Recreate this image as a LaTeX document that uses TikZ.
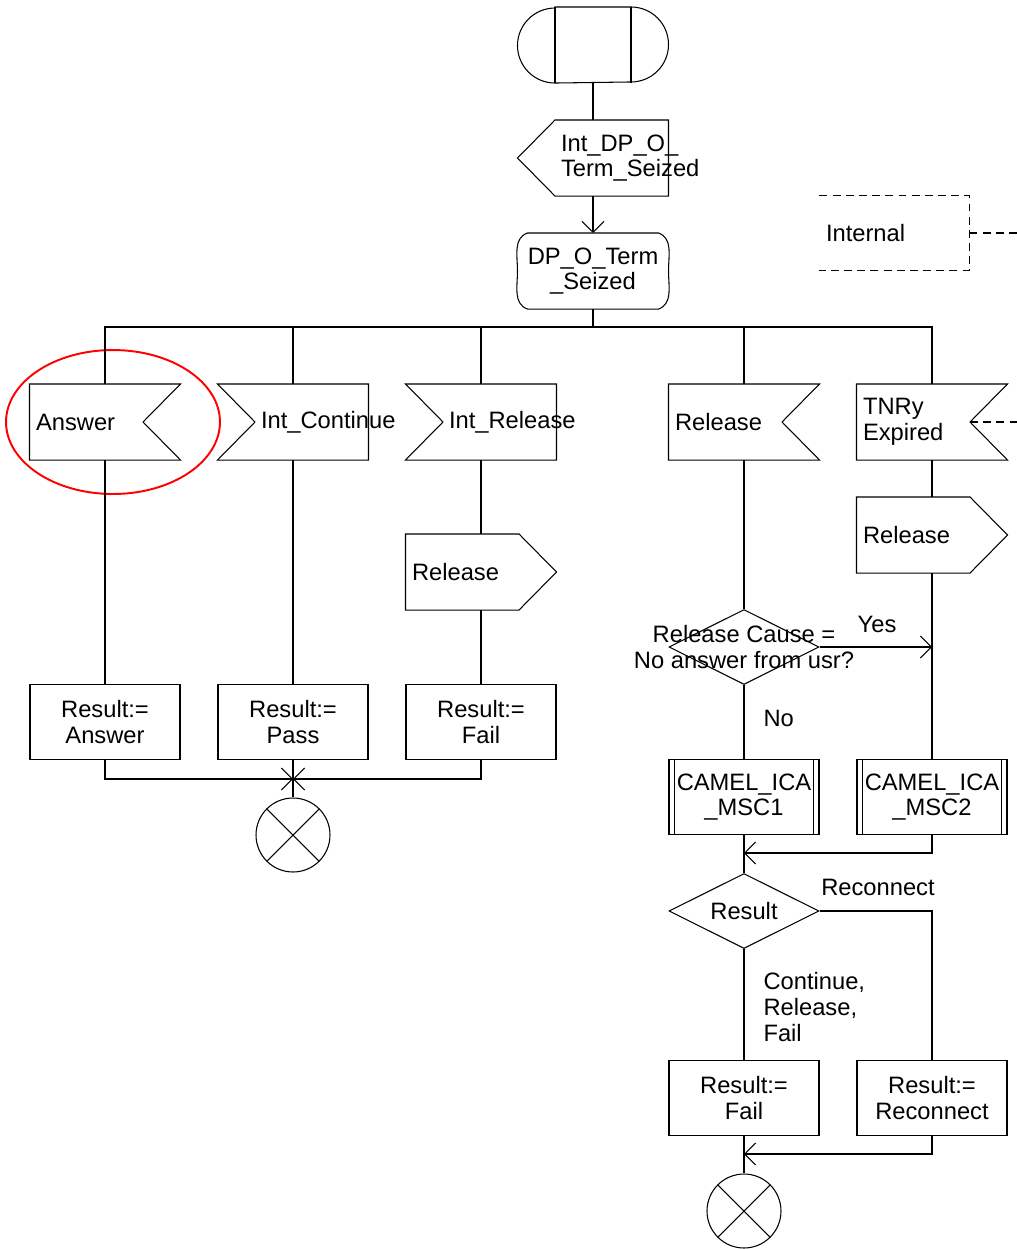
\documentclass[tikz,border=0pt]{standalone}
\usepackage{fontspec}
\setmainfont{Liberation Sans}
\usetikzlibrary{shapes.geometric,arrows.meta}

\begin{document}
\begin{tikzpicture}[x=0.02cm, y=-0.02cm, line width=0.6pt,
  font=\fontsize{13.5}{14.7}\selectfont,
  >={Straight Barb[length=6.2pt,width=12.5pt]},
  sym/.style={minimum width=3cm, minimum height=1.5cm, inner sep=0pt, align=center},
  task/.style={sym, draw},
  txt/.style={anchor=west, align=left, inner sep=0pt},
  dec/.style={diamond, draw, aspect=2, minimum width=3cm, minimum height=1.5cm, inner sep=0pt},
  stop/.style={circle, draw, minimum size=1.48cm, inner sep=0pt, path picture={
      \draw (path picture bounding box.north west) -- (path picture bounding box.south east)
            (path picture bounding box.north east) -- (path picture bounding box.south west);}},
  bold/.style={line width=1.4pt},
  cmtline/.style={dash pattern=on 4.5pt off 3pt}]
\useasboundingbox (0,0) rectangle (1017,1249);

% start
\node[sym] (strt) at (593,45) {};
\draw ([xshift=7.5mm]strt.north west) -- ([xshift=-7.5mm]strt.north east)
  arc[start angle=90, end angle=-90, radius=7.5mm] -- ([xshift=7.5mm]strt.south west)
  arc[start angle=270, end angle=90, radius=7.5mm] -- cycle;
\draw ([xshift=7.5mm]strt.north west) -- ([xshift=7.5mm]strt.south west)
  ([xshift=-7.5mm]strt.north east) -- ([xshift=-7.5mm]strt.south east);

\node[sym, label={[txt, xshift=8.6mm]west:Int\_DP\_O\_\\Term\_Seized}] (idp) at (593,158) {};
\draw ([xshift=7.5mm]idp.north west) -- (idp.north east) -- (idp.south east)
  -- ([xshift=7.5mm]idp.south west) -- (idp.west) -- cycle;

\node[sym] (dps) at (593,271) {DP\_O\_Term\\\_Seized};
\draw ([xshift=2mm]dps.north west) -- ([xshift=-2mm]dps.north east)
  to[out=-20,in=90] (dps.east) to[out=-90,in=20] ([xshift=-2mm]dps.south east)
  -- ([xshift=2mm]dps.south west) to[out=160,in=-90] (dps.west)
  to[out=90,in=-160] ([xshift=2mm]dps.north west);

% comment
\node[sym, minimum width=2.98cm, minimum height=1.48cm,
  label={[txt, xshift=1.2mm]west:Internal}] (cmt) at (894.5,233) {};
\draw[cmtline] (cmt.north west) -- (cmt.north east) -- (cmt.south east) -- (cmt.south west);
\coordinate (edge1) at (1017,233);
\draw[cmtline] (cmt.east) -- (edge1);

% inputs
\node[sym, label={[txt, xshift=1.2mm]west:Answer}] (ans) at (105,422) {};
\node[sym, label={[txt, xshift=8.6mm]west:Int\_Continue}] (ic) at (293,422) {};
\node[sym, label={[txt, xshift=8.6mm]west:Int\_Release}] (ir) at (481,422) {};
\node[sym, label={[txt, xshift=1.2mm]west:Release}] (rel) at (744,422) {};
\node[sym, label={[txt, xshift=1.2mm]west:TNRy\\Expired}] (tnr) at (932,422) {};
\foreach \n in {ans,rel,tnr}
  \draw (\n.north west) -- (\n.north east) -- ([xshift=-7.5mm]\n.east)
    -- (\n.south east) -- (\n.south west) -- cycle;
\foreach \n in {ic,ir}
  \draw (\n.north west) -- (\n.north east) -- (\n.south east)
    -- (\n.south west) -- ([xshift=7.5mm]\n.west) -- cycle;
\coordinate (edge2) at (1017,422);
\draw[cmtline] ([xshift=-7.5mm]tnr.east) -- (edge2);

\draw[red, line width=1.1pt] ([xshift=1.6mm]ans.center) ellipse [x radius=2.14cm, y radius=1.44cm];

% outputs
\node[sym, label={[txt, xshift=1.2mm]west:Release}] (irel) at (481,572) {};
\node[sym, label={[txt, xshift=1.2mm]west:Release}] (trel) at (932,535) {};
\foreach \n in {irel,trel}
  \draw (\n.north west) -- ([xshift=-7.5mm]\n.north east) -- (\n.east)
    -- ([xshift=-7.5mm]\n.south east) -- (\n.south west) -- cycle;

\node[dec, label={[align=center]center:Release Cause =\\No answer from usr?}] (dc1) at (744,647) {};
\node (yes) at (877,624) {Yes};
\node[txt] (no) at (763,718) {No};

% tasks
\node[task] (rans) at (105,722) {Result:=\\Answer};
\node[task] (rpas) at (293,722) {Result:=\\Pass};
\node[task] (rfl) at (481,722) {Result:=\\Fail};
\node[stop] (stp1) at (293,835) {};

\node[task] (cam1) at (744,797) {CAMEL\_ICA\\\_MSC1};
\node[task] (cam2) at (932,797) {CAMEL\_ICA\\\_MSC2};
\foreach \n in {cam1,cam2}
  \draw ([xshift=1.2mm]\n.north west) -- ([xshift=1.2mm]\n.south west)
    ([xshift=-1.2mm]\n.north east) -- ([xshift=-1.2mm]\n.south east);

\node[dec] (dc2) at (744,911) {Result};
\node (recl) at (878,887) {Reconnect};
\node[txt] (cont) at (763,1007) {Continue,\\Release,\\Fail};
\node[task] (rfl2) at (744,1098) {Result:=\\Fail};
\node[task] (rrec) at (932,1098) {Result:=\\Reconnect};
\node[stop] (stp2) at (744,1211) {};

% connectors
\coordinate (bus) at (593,327);
\coordinate (j1) at (293,779);
\coordinate (j2) at (744,853);
\coordinate (j3) at (744,1154);
\draw (strt.south) -- (idp.north);
\draw[->] (idp.south) -- (dps.north);
\draw[bold] (dps.south) -- (bus);
\draw (ans.north) |- (bus) -| (tnr.north);
\foreach \n in {ic,ir,rel}
  \draw (\n.north) -- (\n.north |- bus);
\draw (ans.south) -- (rans.north);
\draw (ic.south) -- (rpas.north);
\draw (ir.south) -- (irel.north);
\draw (irel.south) -- (rfl.north);
\draw[->] (rans.south) |- (j1);
\draw[->] (rfl.south) |- (j1);
\draw (rpas.south) -- (j1);
\draw[bold] (j1) -- (stp1.north);
\draw (rel.south) -- (dc1.north);
\draw (dc1.south) -- (cam1.north);
\draw (tnr.south) -- (trel.north);
\draw (trel.south) -- (cam2.north);
\draw[->] (dc1.east) -- (dc1.east -| trel.south);
\draw (cam1.south) -- (dc2.north);
\draw[->] (cam2.south) |- (j2);
\draw (dc2.east) -| (rrec.north);
\draw (dc2.south) -- (rfl2.north);
\draw (rfl2.south) -- (j3);
\draw[bold] (j3) -- (stp2.north);
\draw[->] (rrec.south) |- (j3);
\end{tikzpicture}
\end{document}
